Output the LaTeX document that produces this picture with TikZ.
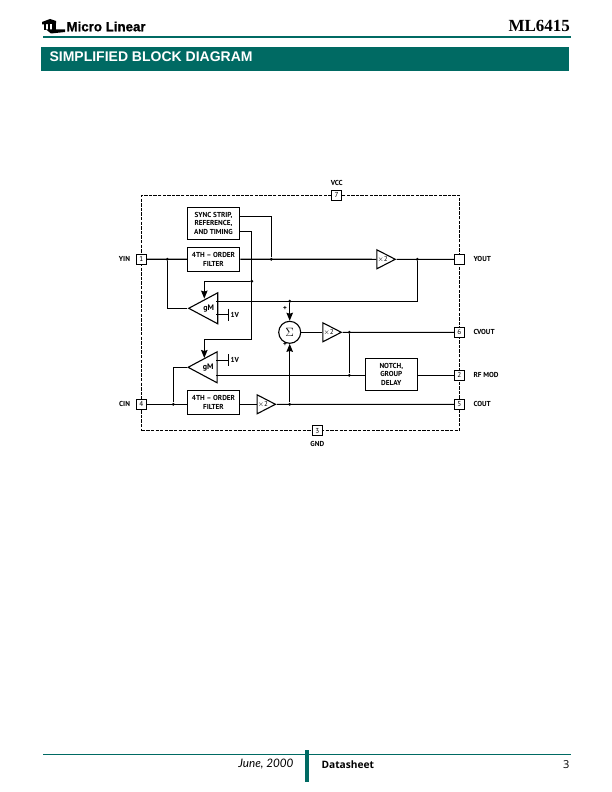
\documentclass[tikz,border=0pt]{standalone}
\usepackage{fontspec}
\setmainfont{PT Sans}
\newfontfamily\headserif{Liberation Serif}
\newfontfamily\headsans{Liberation Sans}
\newfontfamily\logosans[UprightFont=* Bold,FakeBold=0.8]{Liberation Sans}
\newfontfamily\footsans{Open Sans}
\newfontfamily\footital{Lato}
\usetikzlibrary{shapes.geometric}
\usetikzlibrary{arrows.meta,positioning}
\definecolor{mlteal}{HTML}{006A63}
\tikzstyle{sv}=[circle,fill=black, inner sep = 0pt, minimum size=3.2pt]
\tikzstyle{pin}=[draw,fill=white,line width=1pt,inner sep=0pt,minimum size=9.5pt,font=\fontsize{7.2}{7.2}\selectfont]
\tikzstyle{blk}=[draw,fill=white,line width=1.1pt,inner sep=0pt,minimum width=52.4pt,align=center,font=\bfseries\fontsize{7.2}{8.6}\selectfont]
\tikzstyle{amp}=[draw,fill=white,line width=1.1pt,isosceles triangle,isosceles triangle stretches,inner sep=0pt,anchor=apex,minimum width=19pt,minimum height=18.4pt,font=\fontsize{7}{7}\selectfont]
\tikzstyle{gmamp}=[draw,fill=white,line width=1.1pt,isosceles triangle,isosceles triangle stretches,shape border rotate=180,inner sep=0pt,anchor=apex,minimum width=31pt,minimum height=29pt,font=\bfseries\fontsize{8}{8}\selectfont]
\tikzstyle{lbl}=[inner sep=0pt,font=\bfseries\fontsize{7.2}{7.2}\selectfont]
\begin{document}
\begin{tikzpicture}
[x=1pt,y=-1pt,line width=1.1pt,>={Stealth[length=8pt,width=6.5pt,inset=1pt]}, node distance=8pt]
 \useasboundingbox (0,0) rectangle (612,792);
 % header and footer
 \fill[mlteal] (41,47) rectangle (569,71);
 \draw[mlteal,line width=1.5pt] (43,37) -- (571,37);
 \draw[mlteal,line width=0.9pt] (43,754.5) -- (571,754.5);
 \fill[mlteal] (305,750) rectangle (309,782);
 \node[anchor=west,inner sep=0pt,text=white,font=\headsans\bfseries\fontsize{14}{14}\selectfont] (title) at (49,56.5) {SIMPLIFIED BLOCK DIAGRAM};
 \node[anchor=east,inner sep=0pt,font=\headserif\bfseries\fontsize{17}{17}\selectfont] (part) at (570.5,26) {ML6415};
 \node[anchor=west,inner sep=0pt,font=\logosans\fontsize{13.3}{13.3}\selectfont] (logo) at (66,26.5) {Micro Linear};
 % logo mark
 \fill (42,22) -- (50,19) -- (56,21) -- (56,23.5) -- (42,24.5) -- cycle;
 \fill (44,24) rectangle (46,30);
 \fill (48,24) rectangle (50,30);
 \fill (52,23) rectangle (55.5,30);
 \fill (46,29.5) -- (65,29.5) -- (65,32) -- (51,33.5) -- cycle;
 \node[anchor=east,inner sep=0pt,font=\footital\itshape\fontsize{11.7}{12}\selectfont] (date) at (294,764.5) {June, 2000};
 \node[anchor=west,inner sep=0pt,font=\footsans\bfseries\fontsize{10.2}{10}\selectfont] (sheet) at (321,764.5) {Datasheet};
 \node[anchor=east,inner sep=0pt,font=\footsans\fontsize{11}{11}\selectfont] (page) at (570,764.5) {3};
 % chip outline
 \node[draw,dash pattern=on 3.3pt off 1.3pt,line width=1.1pt,minimum width=317.6pt,minimum height=235.4pt,inner sep=0pt] (chip) at (300.5,313) {};
 % blocks
 \node[blk,minimum height=31.7pt] (sync) at (213.5,223.2) {SYNC STRIP,\\REFERENCE,\\AND TIMING};
 \node[blk,minimum height=23.7pt] (filt1) at (213.5,259.2) {4TH -- ORDER\\FILTER};
 \node[blk,minimum height=24pt] (filt2) at (213.5,402.3) {4TH -- ORDER\\FILTER};
 \node[blk,minimum width=52pt,minimum height=32pt] (notch) at (391.3,374.3) {NOTCH,\\GROUP\\DELAY};
 \node[amp] (amp1) at (396.7,259.3) {$\times$2};
 \node[amp] (amp2) at (342.7,332.3) {$\times$2};
 \node[amp] (amp3) at (276.9,404.3) {$\times$2};
 \node[gmamp] (gm1) at (187.3,308.3) {gM};
 \node[gmamp] (gm2) at (186.7,367.3) {gM};
 \node[circle,draw,fill=white,line width=1.1pt,minimum size=22pt,inner sep=0pt,font=\fontsize{12}{12}\selectfont] (sum) at (289.7,332.3) {$\Sigma$};
 % pins
 \node[pin] (p1) at (141.3,259.3) {1};
 \node[pin] (p4) at (141.3,404.3) {4};
 \node[pin] (p7) at (336.7,195.3) {7};
 \node[pin] (p3) at (317.3,430.7) {3};
 \node[pin] (p8) at (459.3,259.3) {};
 \node[pin] (p6) at (459.3,332.3) {6};
 \node[pin] (p2) at (459.3,375.3) {2};
 \node[pin] (p5) at (459.3,404.3) {5};
 % junctions
 \node[sv] (j1) at (167.3,259.3) {};
 \node[sv] (j2) at (271.3,259.3) {};
 \node[sv] (j3) at (417.3,259.3) {};
 \node[sv] (j4) at (251.7,281.3) {};
 \node[sv] (j5) at (289.7,301.3) {};
 \node[sv] (j6) at (349.3,332.3) {};
 \node[sv] (j7) at (349.3,375.3) {};
 \node[sv] (j8) at (173.3,404.3) {};
 \node[sv] (j9) at (289.7,404.3) {};
 % free ends
 \coordinate (syncA) at (sync.east |- 0,216.3);
 \coordinate (syncB) at (sync.east |- 0,231.3);
 \coordinate (gm1top) at (204.3,298.6);
 \coordinate (gm2top) at (204.3,358);
 \coordinate (bend) at (251.7,339.3);
 \coordinate (gm1out) at (216.3,301.3);
 \coordinate (gm2out) at (216.3,375.3);
 \coordinate (gm1ref) at (216.3,314.7);
 \coordinate (gm2ref) at (216.3,360.3);
 \coordinate (bar1a) at (228.3,308.7);
 \coordinate (bar1b) at (228.3,320.7);
 \coordinate (bar2a) at (228.3,354.3);
 \coordinate (bar2b) at (228.3,366.3);
 \coordinate (tie1) at (228.3,314.7);
 \coordinate (tie2) at (228.3,360.3);
 % labels
 \node[lbl,right=1.8pt of tie1] (v1) {1V};
 \node[lbl,right=1.8pt of tie2] (v2) {1V};
 \node[lbl,above=4pt of p7] (vcc) {VCC};
 \node[lbl,below=5pt of p3] (gnd) {GND};
 \node[lbl,left=5.5pt of p1] (yin) {YIN};
 \node[lbl,left=5.5pt of p4] (cin) {CIN};
 \node[lbl,anchor=west] (yout) at (473,258.5) {YOUT};
 \node[lbl,anchor=west] (cvout) at (473,331.5) {CVOUT};
 \node[lbl,anchor=west] (rfmod) at (473,374.5) {RF MOD};
 \node[lbl,anchor=west] (cout) at (473,403.5) {COUT};
 \node[lbl] (plus1) at (285,308) {+};
 \node[lbl] (plus2) at (285,344.5) {+};
 % signal paths
 \path[draw]
   (p1) edge node {} (filt1)
   (filt1) edge node {} (amp1.lower side)
   (amp1) edge node {} (p8)
   (sum) edge node {} (amp2.lower side)
   (amp2) edge node {} (p6)
   (gm2out) edge node {} (gm2out -| notch.west)
   (gm2out -| notch.east) edge node {} (p2)
   (p4) edge node {} (p4 -| filt2.west)
   (p4 -| filt2.east) edge node {} (amp3.lower side)
   (amp3) edge node {} (p5)
   (j6) edge node {} (j7)
   (gm1ref) edge node {} (tie1)
   (gm2ref) edge node {} (tie2)
   (bar1a) edge node {} (bar1b)
   (bar2a) edge node {} (bar2b);
 \draw (syncA) -| (j2);
 \draw (syncB) -| (bend) -- (bend -| gm2top);
 \draw (j1) |- (gm1.apex);
 \draw (j8) |- (gm2.apex);
 \draw (gm1out) -| (j3);
 \draw[->] (j4) -| (gm1top);
 \draw[->] (bend -| gm2top) -- (gm2top);
 \draw[->] (j5) -- (sum);
 \draw[->] (j9) -- (sum);
\end{tikzpicture}
\end{document}
